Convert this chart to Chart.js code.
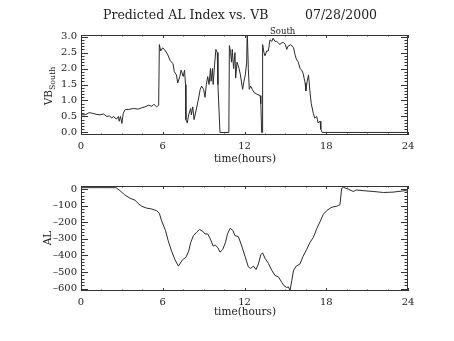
<!DOCTYPE html>
<html>
<head>
<meta charset="utf-8">
<script src="https://cdn.jsdelivr.net/npm/chart.js@4.4.1/dist/chart.umd.min.js"></script>
<style>
  html, body { margin: 0; padding: 0; background: #fff; }
  #wrap { position: relative; width: 454px; height: 341px; background: #fff; overflow: hidden; }
  #wrap canvas { position: absolute; left: 0; }
  .lbl { position: absolute; font-family: "DejaVu Serif", serif; color: #222; white-space: nowrap; line-height: 1; }
  .ctr { transform: translate(-50%, -50%); }
  .rot { transform: translate(-50%, -50%) rotate(-90deg); }
  sub { font-size: 0.75em; vertical-align: -0.45em; }
</style>
</head>
<body>
<div id="wrap">
  <canvas id="vbChart" width="454" height="170" style="top:0"></canvas>
  <canvas id="alChart" width="454" height="171" style="top:170px"></canvas>

  <div class="lbl" style="left:103px;top:9px;font-size:12.5px">Predicted AL Index vs. VB</div>
  <div class="lbl" style="left:270px;top:27px;font-size:8.5px">South</div>
  <div class="lbl" style="left:305px;top:9px;font-size:12.5px">07/28/2000</div>

  <div class="lbl rot" style="left:50px;top:86px;font-size:10.5px">VB<sub>South</sub></div>
  <div class="lbl ctr" style="left:245px;top:158px;font-size:10.5px">time(hours)</div>

  <div class="lbl rot" style="left:47px;top:238px;font-size:10.5px">AL</div>
  <div class="lbl ctr" style="left:245px;top:311px;font-size:10.5px">time(hours)</div>
</div>

<script>
// Data
const hourTicks = [0, 6, 12, 18, 24];
const vbTicks = [0, 0.5, 1, 1.5, 2, 2.5, 3];
const alTicks = [0, -100, -200, -300, -400, -500, -600];

// VB south (top panel)
const vbTimes = [0, 0.3, 0.6, 0.85, 1.1, 1.4, 1.65, 1.9, 2.1, 2.25, 2.4, 2.5, 2.6, 2.75, 2.8, 2.9, 3.0, 3.1,
  3.25, 3.5, 3.85, 4.2, 4.45, 4.7, 4.95, 5.2, 5.35, 5.55, 5.7, 5.75, 5.85, 6.0, 6.2, 6.35, 6.55, 6.75,
  6.85, 7.0, 7.1, 7.25, 7.35, 7.5, 7.6, 7.67, 7.7, 7.8, 7.9, 8.05, 8.1, 8.2, 8.3, 8.45, 8.6, 8.75, 8.85,
  9.0, 9.1, 9.2, 9.3, 9.4, 9.5, 9.55, 9.65, 9.7, 9.8, 9.9, 10.0, 10.05, 10.2, 10.85, 10.89, 10.98,
  11.05, 11.1, 11.2, 11.3, 11.35, 11.45, 11.6, 11.7, 11.86, 11.96, 12.06, 12.16, 12.2, 12.28, 12.35,
  12.45, 12.57, 12.7, 12.9, 13.15, 13.2, 13.26, 13.3, 13.33, 13.43, 13.5, 13.63, 13.75, 13.87, 14.0,
  14.1, 14.24, 14.36, 14.5, 14.6, 14.7, 14.85, 15.0, 15.1, 15.2, 15.4, 15.6, 15.7, 15.8, 15.95, 16.07,
  16.2, 16.3, 16.45, 16.5, 16.6, 16.7, 16.8, 16.9, 17.05, 17.15, 17.3, 17.4, 17.55, 17.6, 17.7, 24];
const vbValues = [0.55, 0.55, 0.62, 0.6, 0.57, 0.55, 0.58, 0.5, 0.52, 0.45, 0.5, 0.45, 0.42, 0.5, 0.35, 0.5, 0.28, 0.6,
  0.72, 0.72, 0.75, 0.73, 0.77, 0.8, 0.85, 0.82, 0.88, 0.8, 0.85, 2.75, 2.55, 2.65, 2.55, 2.45, 2.25, 2.15,
  1.9, 1.8, 1.55, 1.75, 1.95, 1.75, 1.95, 1.5, 0.4, 0.3, 0.55, 0.75, 0.55, 0.8, 0.4, 0.7, 1.0, 1.35, 1.45,
  1.35, 1.1, 1.5, 1.75, 1.5, 2.0, 1.6, 2.0, 1.5, 2.1, 2.6, 2.5, 1.5, 0, 0, 2.72, 2.5,
  2.2, 2.6, 2.0, 2.5, 1.7, 2.2, 2.0, 1.8, 1.35, 1.6, 1.8, 2.2, 3.2, 2.0, 1.35,
  1.45, 1.35, 1.25, 1.2, 1.15, 0.9, 0, 0, 2.75, 2.5, 2.4, 2.55, 2.55, 2.9, 2.85,
  2.95, 2.85, 2.85, 2.8, 2.75, 2.8, 2.82, 2.75, 2.6, 2.7, 2.75, 2.65, 2.45, 2.3, 2.2, 2.0,
  1.95, 1.85, 1.55, 1.3, 1.6, 1.8, 1.3, 0.9, 0.6, 0.45, 0.5, 0.3, 0.35, 0.1, 0, 0];

// Predicted AL index (bottom panel)
const alTimes = [0, 2.57, 2.86, 3.2, 3.6, 3.96, 4.2, 4.45, 4.8, 5.2, 5.55, 5.75, 5.9, 6.2, 6.4, 6.65, 6.9,
  7.15, 7.25, 7.45, 7.7, 7.9, 8.05, 8.25, 8.5, 8.7, 8.95, 9.1, 9.3, 9.5, 9.7, 9.85, 10.05, 10.2, 10.4,
  10.6, 10.75, 10.95, 11.15, 11.3, 11.55, 11.8, 12.04, 12.28, 12.45, 12.65, 12.85, 13.02, 13.2, 13.33,
  13.5, 13.75, 14.0, 14.24, 14.5, 14.73, 14.9, 15.1, 15.22, 15.34, 15.47, 15.6, 15.8, 16.07, 16.3,
  16.56, 16.8, 17.05, 17.3, 17.54, 17.79, 18.03, 18.3, 18.5, 18.77, 19.01, 19.13, 19.25, 19.6, 19.98,
  20.2, 20.7, 21.44, 22.2, 22.9, 23.78, 24];
const alValues = [8, 8, -10, -35, -56, -67, -88, -104, -115, -121, -131, -146, -188, -250, -312, -375, -427,
  -465, -452, -427, -412, -375, -323, -281, -260, -244, -256, -271, -271, -302, -344, -338, -354, -381, -365,
  -323, -271, -237, -250, -281, -287, -344, -406, -469, -479, -465, -485, -452, -396, -385,
  -417, -448, -490, -521, -531, -562, -583, -594, -590, -612, -552, -490, -465, -452, -406,
  -365, -323, -292, -240, -198, -152, -131, -115, -108, -104, -94, 4, 10, 0, -15,
  -6, -10, -15, -21, -19, -10, -12];

function toPoints(times, values) {
  return times.map((t, i) => ({ x: t, y: values[i] }));
}

// IDL style box with inward tick marks on all four sides
const idlFrame = {
  id: 'idlFrame',
  afterDraw(chart, args, opts) {
    const ctx = chart.ctx;
    const a = chart.chartArea;
    const xs = chart.scales.x, ys = chart.scales.y;
    ctx.save();
    ctx.strokeStyle = '#333';
    ctx.lineWidth = 1;
    ctx.strokeRect(a.left + 0.5, a.top + 0.5, a.right - a.left - 1, a.bottom - a.top - 1);
    ctx.beginPath();
    // x ticks
    for (let v = xs.min; v <= xs.max + 1e-6; v += opts.xMinor) {
      const major = Math.abs(v / opts.xMajor - Math.round(v / opts.xMajor)) < 1e-6;
      const len = major ? 3 : 1.5;
      const px = Math.round(xs.getPixelForValue(v)) + 0.5;
      ctx.moveTo(px, a.bottom); ctx.lineTo(px, a.bottom - len);
      ctx.moveTo(px, a.top); ctx.lineTo(px, a.top + len);
    }
    // y ticks
    const start = Math.ceil(ys.min / opts.yMinor - 1e-6) * opts.yMinor;
    for (let v = start; v <= ys.max + 1e-6; v += opts.yMinor) {
      const major = Math.abs(v / opts.yMajor - Math.round(v / opts.yMajor)) < 1e-6;
      const len = major ? 7 : 3.5;
      const py = Math.round(ys.getPixelForValue(v)) + 0.5;
      ctx.moveTo(a.left, py); ctx.lineTo(a.left + len, py);
      ctx.moveTo(a.right, py); ctx.lineTo(a.right - len, py);
    }
    ctx.stroke();
    ctx.restore();
  }
};

const tickFont = { family: 'DejaVu Serif', size: 10 };

function makeChart(id, points, yMin, yMax, yTicks, yFmt, frameOpts, pad, xHeight) {
  return new Chart(document.getElementById(id), {
    type: 'line',
    data: {
      datasets: [{
        data: points,
        borderColor: '#2a2a2a',
        borderWidth: 1,
        pointRadius: 0,
        tension: 0,
        fill: false
      }]
    },
    options: {
      responsive: false,
      animation: false,
      layout: { padding: pad },
      plugins: {
        legend: { display: false },
        tooltip: { enabled: false },
        idlFrame: frameOpts
      },
      scales: {
        x: {
          type: 'linear',
          min: 0,
          max: 24,
          grid: { display: false, drawTicks: false },
          border: { display: false },
          afterBuildTicks: s => { s.ticks = hourTicks.map(v => ({ value: v })); },
          afterFit: s => { s.height = xHeight; },
          ticks: { font: tickFont, color: '#222', padding: 5, maxRotation: 0, autoSkip: false }
        },
        y: {
          type: 'linear',
          min: yMin,
          max: yMax,
          grid: { display: false, drawTicks: false },
          border: { display: false },
          afterBuildTicks: s => { s.ticks = yTicks.map(v => ({ value: v })); },
          afterFit: s => { s.width = 81; },
          ticks: { font: tickFont, color: '#222', padding: 4, callback: yFmt }
        }
      }
    },
    plugins: [idlFrame]
  });
}

makeChart('vbChart', toPoints(vbTimes, vbValues), -0.08, 3.05, vbTicks,
  v => v.toFixed(1),
  { xMajor: 6, xMinor: 1.5, yMajor: 0.5, yMinor: 0.1 },
  { top: 35, right: 46, left: 0, bottom: 0 }, 35);

makeChart('alChart', toPoints(alTimes, alValues), -615, 18, alTicks,
  v => String(v).replace('-', '\u2013'),
  { xMajor: 6, xMinor: 1.5, yMajor: 100, yMinor: 20 },
  { top: 16, right: 46, left: 0, bottom: 0 }, 50);
</script>
</body>
</html>
